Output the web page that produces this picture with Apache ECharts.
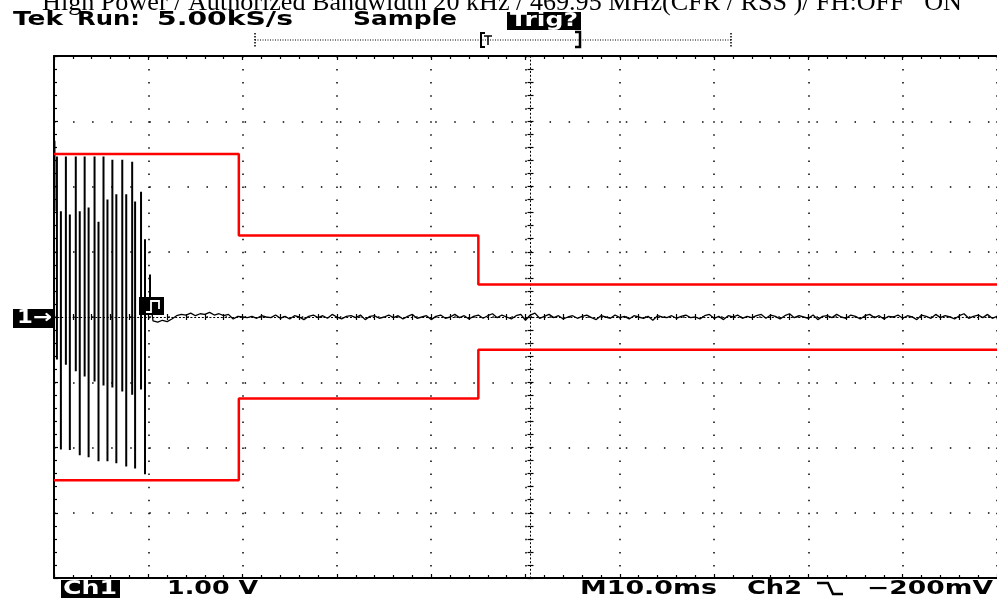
<!DOCTYPE html>
<html><head><meta charset="utf-8">
<script src="https://cdn.jsdelivr.net/npm/echarts@6/dist/echarts.min.js"></script>
<style>html,body{margin:0;padding:0;background:#fff;}#c{width:997px;height:604px;}</style>
</head><body><div id="c"></div>
<script>
// ---------- DATA ----------
const titleText = 'High Power / Authorized Bandwidth 20 kHz / 469.95 MHz(CFR / RSS )/ FH:OFF   ON';
const timeMin = 0, timeMax = 100, timeDiv = 10;      // ms (M10.0ms / div)
const voltMin = -4, voltMax = 4, voltDiv = 1;         // V  (1.00 V / div)

// mask (red) limits: step times and levels
const maskTimes = [0, 19.6, 45, 100];
const maskUpper = [2.5, 1.25, 0.5, 0.5];
const maskLower = [-2.5, -1.25, -0.5, -0.5];

// burst: each bar = a down stroke (A) and an up stroke (B)
const burstATimes = [0.05, 0.31, 1.26, 2.31, 3.25, 4.30, 5.25, 6.19, 7.24, 8.29, 9.23, 10.18];
const burstATop   = [2.70, 2.46, 2.46, 2.46, 2.46, 2.46, 2.46, 2.41, 2.41, 2.38, 1.92, 0.65];
const burstAEnd   = [1.62, -0.65, -0.73, -0.83, -0.91, -0.99, -1.05, -1.08, -1.14, -1.19, -1.11, 0.30];
const burstBTimes = [0.73, 1.68, 2.73, 3.67, 4.72, 5.67, 6.61, 7.66, 8.60, 9.65];
const burstBStart = [1.62, 1.57, 1.62, 1.68, 1.46, 1.80, 1.88, 1.88, 1.77, 1.19];
const burstBEnd   = [-2.03, -2.04, -2.12, -2.15, -2.21, -2.21, -2.24, -2.29, -2.32, -2.41];

// residual noise after the burst, one sample every 0.5 ms from 10.5 ms
const noiseStart = 10.5, noiseStep = 0.5;
const noiseValues = [
 -0.06,-0.08,-0.05,-0.07,-0.03,0.02,0.04,0.03,0.06,0.02,
 0.05,0.04,0.07,0.03,0.05,0.02,0.04,-0.03,0.01,0.00,
 -0.01,0.01,-0.02,0.02,0.00,-0.01,0.03,-0.02,0.01,-0.03,
 0.02,0.00,-0.04,0.01,0.03,-0.01,0.02,-0.02,0.04,0.00,
 -0.03,0.01,0.02,-0.01,0.03,-0.04,0.01,0.02,-0.02,0.00,
 0.03,-0.01,0.02,-0.03,0.01,0.04,-0.02,0.00,0.02,-0.04,
 0.01,0.03,-0.02,0.00,0.04,-0.01,0.02,-0.03,0.01,0.03,
 -0.02,0.02,0.05,-0.01,0.03,0.00,-0.03,0.02,0.04,-0.05,
 0.03,0.06,-0.02,0.01,0.04,-0.01,0.02,-0.03,0.00,0.02,
 -0.02,0.01,0.03,-0.01,-0.04,0.02,0.00,-0.02,0.03,-0.01,
 0.01,-0.03,0.02,0.00,-0.02,0.01,-0.05,0.02,0.00,-0.01,
 0.02,-0.02,0.01,0.03,-0.01,0.00,-0.03,0.02,0.04,-0.02,
 0.01,-0.04,0.02,0.00,0.03,-0.02,0.01,-0.01,0.02,0.04,
 -0.02,0.03,0.01,-0.03,0.02,0.05,-0.01,0.02,0.00,-0.02,
 0.03,-0.04,0.01,0.02,-0.01,0.04,0.00,-0.02,0.03,0.01,
 -0.03,0.02,0.04,-0.01,0.02,-0.03,0.01,0.00,0.03,-0.02,
 0.02,0.00,-0.04,0.03,0.01,-0.02,0.04,-0.01,0.02,0.00,
 -0.03,0.02,0.05,-0.02,0.01,0.03,-0.01,0.04,-0.02,0.01
];

// ---------- BUILD ----------
const upperData = maskTimes.map((t, i) => [t, maskUpper[i]]);
const lowerData = maskTimes.map((t, i) => [t, maskLower[i]]);

const burstData = [];
for (let i = 0; i < burstATimes.length; i++) {
  burstData.push([burstATimes[i], burstATop[i]], [burstATimes[i], burstAEnd[i]], [burstATimes[i], '-']);
  if (i >= 1 && i - 1 < burstBTimes.length) {
    const j = i - 1;
    burstData.push([burstBTimes[j], burstBStart[j]], [burstBTimes[j], burstBEnd[j]], [burstBTimes[j], '-']);
  }
}
const noiseData = [[burstATimes[burstATimes.length - 1], burstAEnd[burstAEnd.length - 1]]];
noiseValues.forEach((v, i) => noiseData.push([noiseStart + i * noiseStep, v]));

const chart = echarts.init(document.getElementById('c'), null, {renderer: 'canvas'});

const black = '#000';
const hDot = [1.5, 95.3 / 5 - 1.5];
const vDot = [1.5, 65.25 / 5 - 1.5];

function xAx(extra) {
  return Object.assign({
    type: 'value', min: timeMin, max: timeMax, interval: timeDiv,
    axisLabel: {show: false}, splitLine: {show: false},
    axisLine: {show: true, onZero: false, lineStyle: {color: black, width: 2}},
    axisTick: {show: true, inside: true, length: 4, lineStyle: {color: black, width: 1.2}},
    minorTick: {show: true, splitNumber: 5, length: 3, lineStyle: {color: black, width: 1.2}}
  }, extra);
}
function yAx(extra) {
  return Object.assign({
    type: 'value', min: voltMin, max: voltMax, interval: voltDiv,
    axisLabel: {show: false}, splitLine: {show: false},
    axisLine: {show: true, onZero: false, lineStyle: {color: black, width: 2}},
    axisTick: {show: true, inside: true, length: 4, lineStyle: {color: black, width: 1.2}},
    minorTick: {show: true, splitNumber: 5, length: 3, lineStyle: {color: black, width: 1.2}}
  }, extra);
}

const ctx = document.createElement('canvas').getContext('2d');
function fitText(str, x0, x1, cy, font, fill) {
  ctx.font = font;
  const w = ctx.measureText(str).width;
  return {type: 'text', x: x0, y: cy, scaleX: (x1 - x0) / w, z: 100,
    style: {text: str, font: font, fill: fill || black, textAlign: 'left', textVerticalAlign: 'middle'}};
}
const tekFont = 'bold 19px "DejaVu Sans"';
const graphics = [
  fitText(titleText, 42, 962, 3, '26px "Liberation Serif"'),
  fitText('Tek', 13, 63, 20.5, tekFont),
  fitText('Run:', 77, 140, 20.5, tekFont),
  fitText('5.00kS/s', 157, 293, 20.5, tekFont),
  fitText('Sample', 353, 457, 20.5, tekFont),
  {type: 'rect', z: 99, shape: {x: 507, y: 12, width: 74, height: 18}, style: {fill: black}},
  fitText('Trig?', 510, 578, 21, tekFont, '#fff'),
  // record bar
  {type: 'line', z: 99, shape: {x1: 255, y1: 40, x2: 731, y2: 40}, style: {stroke: black, lineWidth: 1, lineDash: [1, 1.5]}},
  {type: 'line', z: 99, shape: {x1: 255, y1: 33, x2: 255, y2: 47}, style: {stroke: black, lineWidth: 1.5, lineDash: [1.5, 1.5]}},
  {type: 'line', z: 99, shape: {x1: 731, y1: 33, x2: 731, y2: 47}, style: {stroke: black, lineWidth: 1.5, lineDash: [1.5, 1.5]}},
  {type: 'polyline', z: 99, shape: {points: [[485, 33], [481, 33], [481, 47], [485, 47]]}, style: {stroke: black, lineWidth: 2, fill: null}},
  {type: 'polyline', z: 99, shape: {points: [[484, 36], [492, 36]]}, style: {stroke: black, lineWidth: 1.5, fill: null}},
  {type: 'polyline', z: 99, shape: {points: [[488, 36], [488, 45]]}, style: {stroke: black, lineWidth: 1.5, fill: null}},
  {type: 'polyline', z: 99, shape: {points: [[575, 32], [580, 32], [580, 47], [575, 47]]}, style: {stroke: black, lineWidth: 2.5, fill: null}},
  // ch1 marker
  {type: 'rect', z: 99, shape: {x: 13, y: 309, width: 41, height: 19}, style: {fill: black}},
  fitText('1\u2192', 17, 52, 318.5, tekFont, '#fff'),
  // trigger level marker
  {type: 'rect', z: 99, shape: {x: 139, y: 297, width: 25, height: 18}, style: {fill: black}},
  {type: 'polyline', z: 100, shape: {points: [[146, 312], [151, 312], [151, 301], [159, 301], [159, 309]]}, style: {stroke: '#fff', lineWidth: 1.8, fill: null}},
  // bottom readouts
  {type: 'rect', z: 99, shape: {x: 61, y: 580, width: 59, height: 18}, style: {fill: black}},
  fitText('Ch1', 63, 117, 589.5, tekFont, '#fff'),
  fitText('1.00 V', 167, 258, 589.5, tekFont),
  fitText('M10.0ms', 580, 717, 589.5, tekFont),
  fitText('Ch2', 747, 802, 589.5, tekFont),
  {type: 'polyline', z: 99, shape: {points: [[817, 583], [828, 583], [833, 594], [843, 594]]}, style: {stroke: black, lineWidth: 2.5, fill: null}},
  fitText('\u2212200mV', 867, 993, 589.5, tekFont)
];

chart.setOption({
  animation: false,
  backgroundColor: '#fff',
  grid: {left: 54, top: 56, width: 953, height: 522, show: false},
  xAxis: [
    xAx({position: 'bottom', splitLine: {show: true, lineStyle: {color: black, width: 1.5, type: vDot}}}),
    xAx({position: 'top'}),
    xAx({position: 'bottom', offset: -261, axisLine: {show: true, onZero: false, lineStyle: {color: black, width: 1, type: [1.2, 2.6]}},
         axisTick: {show: true, inside: true, length: 3, lineStyle: {color: black, width: 1.2}}}),
    xAx({position: 'bottom', offset: -261, axisLine: {show: false, onZero: false},
         axisTick: {show: true, inside: false, length: 3, lineStyle: {color: black, width: 1.2}}})
  ],
  yAxis: [
    yAx({position: 'left', splitLine: {show: true, lineStyle: {color: black, width: 1.5, type: hDot}}}),
    yAx({position: 'left', offset: -476.5, axisLine: {show: true, onZero: false, lineStyle: {color: black, width: 1, type: [1.2, 2.6]}},
         axisTick: {show: true, inside: true, length: 3, lineStyle: {color: black, width: 1.2}}}),
    yAx({position: 'left', offset: -476.5, axisLine: {show: false, onZero: false},
         axisTick: {show: true, inside: false, length: 3, lineStyle: {color: black, width: 1.2}}})
  ],
  graphic: graphics,
  series: [
    {type: 'line', name: 'burst', xAxisIndex: 0, yAxisIndex: 0, data: burstData, symbol: 'none',
     connectNulls: false, lineStyle: {color: black, width: 2}, z: 3},
    {type: 'line', name: 'noise', xAxisIndex: 0, yAxisIndex: 0, data: noiseData, symbol: 'none',
     lineStyle: {color: black, width: 1.3}, z: 3},
    {type: 'line', name: 'upper', xAxisIndex: 0, yAxisIndex: 0, data: upperData, step: 'end', symbol: 'none',
     lineStyle: {color: '#ff0000', width: 2.5}, z: 4},
    {type: 'line', name: 'lower', xAxisIndex: 0, yAxisIndex: 0, data: lowerData, step: 'end', symbol: 'none',
     lineStyle: {color: '#ff0000', width: 2.5}, z: 4}
  ]
});
</script></body></html>
